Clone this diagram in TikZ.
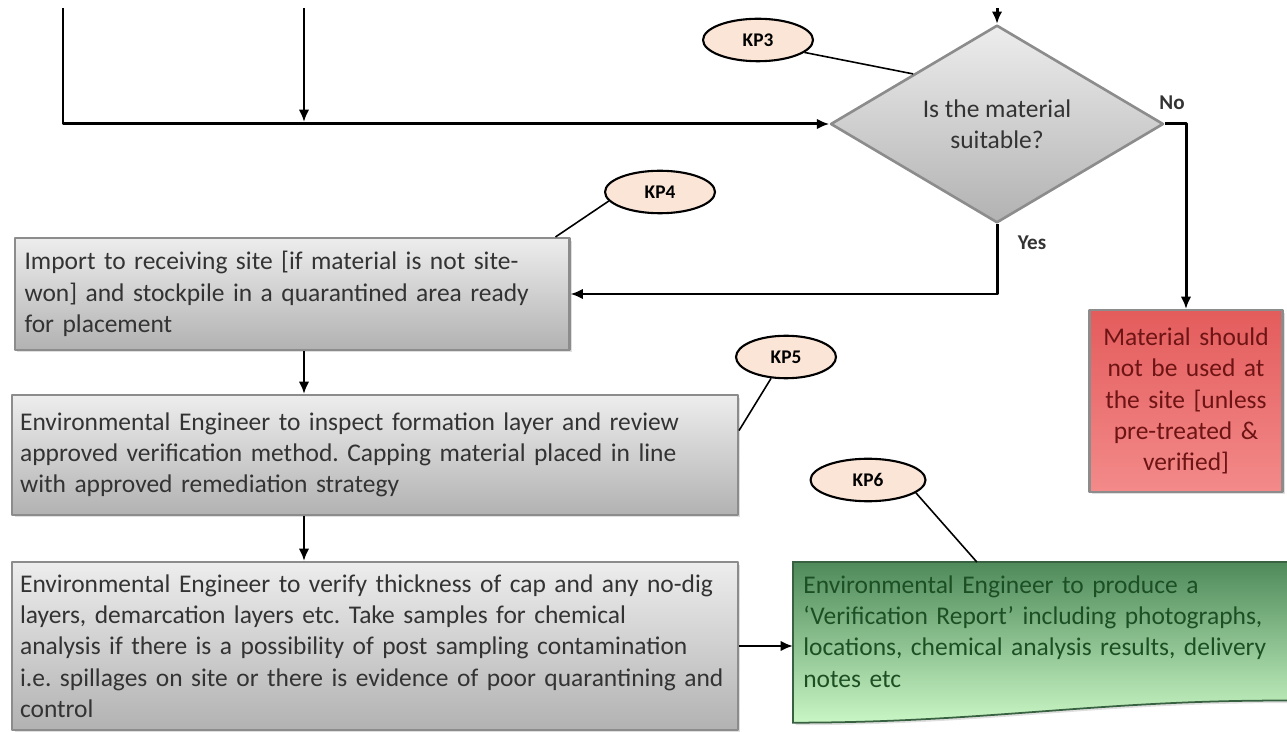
\documentclass[tikz,border=0pt]{standalone}
\usepackage{fontspec}
\setmainfont{Carlito}
\usetikzlibrary{shapes.geometric,arrows.meta,calc,backgrounds,shadows}
\frenchspacing
\definecolor{boxline}{HTML}{8C8C8C}
\definecolor{greytop}{HTML}{EDEDED}
\definecolor{greybot}{HTML}{B2B2B2}
\definecolor{textgrey}{HTML}{333333}
\definecolor{kpfill}{HTML}{FBE5D6}
\definecolor{redtop}{HTML}{E45C5C}
\definecolor{redbot}{HTML}{F38A8A}
\definecolor{redtext}{HTML}{6E1414}
\definecolor{greentop}{HTML}{4F8A5B}
\definecolor{greenbot}{HTML}{C9F6C4}
\definecolor{greentext}{HTML}{1D4F25}
\tikzset{
  stepbox/.style={draw=boxline,line width=1.2pt,top color=greytop,bottom color=greybot,text=textgrey,
    align=left,inner xsep=0.2cm,inner ysep=0pt,font=\fontsize{14.5}{17.8}\selectfont,
    drop shadow={opacity=0.25,shadow xshift=0.05cm,shadow yshift=-0.05cm}},
  kpnote/.style={ellipse,draw,line width=1.2pt,fill=kpfill,inner sep=0pt,minimum width=2.2cm,
    minimum height=0.85cm,font=\bfseries\fontsize{11}{13}\selectfont},
  flowline/.style={line width=1.7pt,->},
  kpline/.style={line width=0.9pt},
  branch/.style={font=\bfseries\fontsize{12}{14}\selectfont,text=textgrey}
}
\begin{document}
\begin{tikzpicture}[x=0.02cm,y=-0.02cm,line join=round,>={Latex[length=7pt,width=6pt]}]
\useasboundingbox (0,0) rectangle (1287,732);
\clip (0,0) rectangle (1287,732);

\node[diamond,draw=boxline,line width=1.5pt,top color=greytop,bottom color=greybot,text=textgrey,
  inner sep=0pt,minimum width=6.66cm,minimum height=3.76cm,align=center,
  font=\fontsize{14.5}{17.8}\selectfont] (suit) at (997,124) {Is the material\\suitable?};

\node[stepbox,minimum width=11.1cm,text width=10.7cm,minimum height=2.24cm] (import) at (292,294)
  {Import to receiving site [if material is not site-\\won] and stockpile in a quarantined area ready\\for placement};
\node[stepbox,minimum width=14.52cm,text width=14.2cm,inner xsep=0.16cm,minimum height=2.4cm] (place) at (375,455)
  {Environmental Engineer to inspect formation layer and review\\approved verification method. Capping material placed in line\\with approved remediation strategy};
\node[stepbox,minimum width=14.52cm,text width=14.2cm,inner xsep=0.16cm,minimum height=3.36cm] (verify) at (375,646)
  {Environmental Engineer to verify thickness of cap and any no-dig\\layers, demarcation layers etc. Take samples for chemical\\analysis if there is a possibility of post sampling contamination\\i.e. spillages on site or there is evidence of poor quarantining and\\control};
\node[stepbox,top color=redtop,bottom color=redbot,text=redtext,align=center,inner xsep=0.1cm,
  minimum width=3.86cm,text width=3.66cm,minimum height=3.64cm] (unsuit) at (1186,401)
  {Material should\\not be used at\\the site [unless\\pre-treated \&\\verified]};
\node[anchor=north west,align=left,inner xsep=0.2cm,inner ysep=0pt,text=greentext,
  font=\fontsize{14.5}{17.8}\selectfont,minimum width=10.2cm,text width=9.8cm,minimum height=2.76cm] (rep) at (793,562)
  {Environmental Engineer to produce a\\`Verification Report' including photographs,\\locations, chemical analysis results, delivery\\notes etc};
\begin{scope}[on background layer]
\draw[draw=greentop!70!black,line width=1pt,top color=greentop,bottom color=greenbot,
  drop shadow={opacity=0.25,shadow xshift=0.05cm,shadow yshift=-0.05cm}]
  (rep.north west) -- (rep.north east) -- (rep.south east)
  .. controls ($(rep.south east)+(-200,-2)$) and ($(rep.south west)+(200,22)$) .. ($(rep.south west)+(0,22)$) -- cycle;
\end{scope}

\node[kpnote] (kp3) at (758,40) {KP3};
\node[kpnote] (kp4) at (660,192) {KP4};
\node[kpnote,minimum width=2.0cm] (kp5) at (786,357) {KP5};
\node[kpnote,minimum width=2.3cm] (kp6) at (868,480) {KP6};

\node[branch] (nolab) at (1172,103) {No};
\node[branch] (yeslab) at (1032,243) {Yes};

\coordinate (topL) at (63,8);
\coordinate (topM) at (304,8);
\coordinate (topR) at (997,8);

\draw[flowline] (topL) |- (suit.west);
\draw[flowline] (topM) -- ($(topM |- suit.west)+(0,-2)$);
\draw[flowline] (topR) -- (suit.north);
\draw[flowline] (suit.east) -| (unsuit.north);
\draw[flowline] (suit.south) |- (import.east);
\draw[flowline] (import.south -| topM) -- (place.north -| topM);
\draw[flowline] (place.south -| topM) -- (verify.north -| topM);
\draw[flowline] (verify.east) -- (verify.east -| rep.west);

\draw[kpline] (kp3.-15) -- (suit.north west);
\draw[kpline] (kp4.190) -- ($(import.north east)+(-15,0)$);
\draw[kpline] (kp5.235) -- ($(place.north east)!0.3!(place.south east)$);
\draw[kpline] (kp6.-15) -- ($(rep.north west)!0.36!(rep.north east)$);
\end{tikzpicture}
\end{document}
